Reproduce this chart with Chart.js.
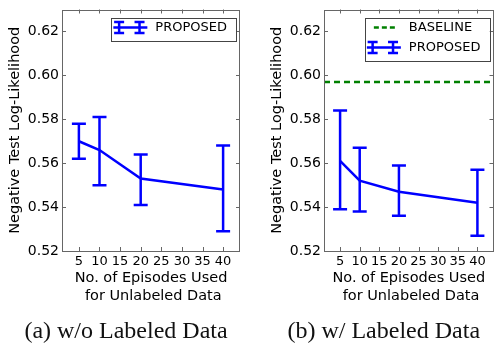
<!DOCTYPE html>
<html>
<head>
<meta charset="utf-8">
<script src="https://cdn.jsdelivr.net/npm/chart.js@4.4.1/dist/chart.umd.min.js"></script>
<style>
  html, body { margin: 0; padding: 0; background: #fff; }
  #wrap { position: relative; width: 503px; height: 348px; overflow: hidden; }
  canvas { position: absolute; top: 0; }
  #chartA { left: 0; }
  #chartB { left: 250px; }
</style>
</head>
<body>
<div id="wrap">
  <canvas id="chartA" width="250" height="348"></canvas>
  <canvas id="chartB" width="253" height="348"></canvas>
</div>
<script>
const episodes = [5, 10, 20, 40];
const xTicks = [5, 10, 15, 20, 25, 30, 35, 40];
const yTicks = [0.52, 0.54, 0.56, 0.58, 0.60, 0.62];

// (a) without labeled data
const nllNoLabel = [0.570, 0.566, 0.553, 0.548];
const nllNoLabelLow = [0.562, 0.550, 0.541, 0.529];
const nllNoLabelHigh = [0.578, 0.581, 0.564, 0.568];

// (b) with labeled data
const nllLabel = [0.561, 0.552, 0.547, 0.542];
const nllLabelLow = [0.539, 0.538, 0.536, 0.527];
const nllLabelHigh = [0.584, 0.567, 0.559, 0.557];
const baselineNll = 0.597;

const xMin = 0.9;
const xMax = 44.1;
const yMin = 0.52;
const yMax = 0.63;

const blue = "#0000ff";
const green = "#008000";
const frameColor = "#666666";
const sans = "DejaVu Sans";

const panelPlugin = {
  id: "panelDecor",
  afterDatasetsDraw(chart, args, opts) {
    const { ctx, chartArea: a, scales } = chart;
    ctx.save();
    // frame + inward ticks on all four sides
    ctx.strokeStyle = frameColor;
    ctx.lineWidth = 1;
    ctx.strokeRect(Math.round(a.left) + 0.5, Math.round(a.top) + 0.5,
      Math.round(a.right - a.left) - 1, Math.round(a.bottom - a.top) - 1);
    ctx.beginPath();
    xTicks.forEach((v) => {
      const x = Math.round(scales.x.getPixelForValue(v)) + 0.5;
      ctx.moveTo(x, a.bottom); ctx.lineTo(x, a.bottom - 4);
      ctx.moveTo(x, a.top); ctx.lineTo(x, a.top + 4);
    });
    yTicks.forEach((v) => {
      const y = Math.round(scales.y.getPixelForValue(v)) + 0.5;
      ctx.moveTo(a.left, y); ctx.lineTo(a.left + 4, y);
      ctx.moveTo(a.right, y); ctx.lineTo(a.right - 4, y);
    });
    ctx.stroke();

    // legend
    ctx.font = "13px " + sans;
    const textW = Math.max(...opts.legend.map((e) => ctx.measureText(e.label).width));
    const boxRight = a.right - 4;
    const textX = boxRight - 9 - textW;
    const boxLeft = textX - 44;
    const top = a.top + 8;
    const bottom = top + 10 + (opts.legend.length - 1) * 20 + 13;
    ctx.fillStyle = "#fff";
    ctx.fillRect(boxLeft, top, boxRight - boxLeft, bottom - top);
    ctx.strokeStyle = "#444";
    ctx.strokeRect(Math.round(boxLeft) + 0.5, Math.round(top) + 0.5,
      Math.round(boxRight - boxLeft), Math.round(bottom - top));
    opts.legend.forEach((e, i) => {
      const y = top + 10 + i * 20;
      const x0 = boxLeft + 2;
      const x1 = textX - 8;
      ctx.lineWidth = 2.5;
      if (e.kind === "dash") {
        ctx.strokeStyle = green;
        ctx.setLineDash([5, 3]);
        ctx.beginPath();
        ctx.moveTo(x0 + 7, y); ctx.lineTo(x0 + 28, y);
        ctx.stroke();
        ctx.setLineDash([]);
      } else {
        ctx.strokeStyle = blue;
        ctx.beginPath();
        ctx.moveTo(x0, y); ctx.lineTo(x1, y);
        [0.17, 0.77].forEach((f) => {
          const bx = x0 + (x1 - x0) * f;
          ctx.moveTo(bx, y - 5.5); ctx.lineTo(bx, y + 5.5);
          ctx.moveTo(bx - 5, y - 5.5); ctx.lineTo(bx + 5, y - 5.5);
          ctx.moveTo(bx - 5, y + 5.5); ctx.lineTo(bx + 5, y + 5.5);
        });
        ctx.stroke();
      }
      ctx.fillStyle = "#000";
      ctx.textBaseline = "middle";
      ctx.textAlign = "left";
      ctx.fillText(e.label, textX, y + 0.5);
    });

    // caption below the panel
    ctx.font = "24px 'Liberation Serif'";
    ctx.fillStyle = "#111";
    ctx.textAlign = "center";
    ctx.textBaseline = "middle";
    ctx.fillText(opts.caption, (a.left + a.right) / 2 - 25, 332);
    ctx.restore();
  }
};

function errorBarSets(low, high) {
  return episodes.map((x, i) => ({
    data: [{ x, y: low[i] }, { x, y: high[i] }],
    showLine: true,
    borderColor: blue,
    borderWidth: 2.5,
    pointStyle: "line",
    pointRadius: 7,
    pointBorderWidth: 2.5,
    pointBorderColor: blue,
    pointHoverRadius: 7
  }));
}

function noScalePadding(s) {
  s.paddingTop = 0;
  s.paddingBottom = 0;
  s.paddingLeft = 0;
  s.paddingRight = 0;
}

function makePanel(id, means, low, high, baseline, legend, caption, padLeft, padRight) {
  const datasets = [];
  if (baseline !== null) {
    datasets.push({
      data: [{ x: xMin, y: baseline }, { x: xMax, y: baseline }],
      showLine: true,
      borderColor: green,
      borderWidth: 2.5,
      borderDash: [6, 4],
      pointRadius: 0
    });
  }
  datasets.push({
    data: episodes.map((x, i) => ({ x, y: means[i] })),
    showLine: true,
    borderColor: blue,
    borderWidth: 2.5,
    pointRadius: 0,
    tension: 0
  });
  datasets.push(...errorBarSets(low, high));

  new Chart(document.getElementById(id), {
    type: "scatter",
    plugins: [panelPlugin],
    data: { datasets },
    options: {
      responsive: false,
      animation: false,
      devicePixelRatio: 1,
      layout: { padding: { top: 5, left: padLeft, right: padRight, bottom: 43 } },
      plugins: {
        legend: { display: false },
        tooltip: { enabled: false },
        panelDecor: { legend, caption }
      },
      scales: {
        x: {
          type: "linear",
          min: xMin,
          max: xMax,
          afterBuildTicks: (s) => { s.ticks = xTicks.map((v) => ({ value: v })); },
          afterFit: (s) => { s.height = 54; noScalePadding(s); },
          grid: { display: false, drawTicks: false },
          border: { display: false },
          ticks: { autoSkip: false, maxRotation: 0, padding: 3, color: "#000", font: { family: sans, size: 13 } },
          title: {
            display: true,
            text: ["No. of Episodes Used", " for Unlabeled Data"],
            color: "#000",
            font: { family: sans, size: 14.5, lineHeight: 18 / 14.5 },
            padding: { top: 0, bottom: 0 }
          }
        },
        y: {
          min: yMin,
          max: yMax,
          afterBuildTicks: (s) => { s.ticks = yTicks.map((v) => ({ value: v })); },
          afterFit: (s) => { s.width = 62; noScalePadding(s); },
          grid: { display: false, drawTicks: false },
          border: { display: false },
          ticks: {
            padding: 3,
            color: "#000",
            font: { family: sans, size: 14 },
            callback: (v) => Number(v).toFixed(2)
          },
          title: {
            display: true,
            text: "Negative Test Log-Likelihood",
            color: "#000",
            font: { family: sans, size: 14.5, lineHeight: 18 / 14.5 },
            padding: { top: 6.5, bottom: 0 }
          }
        }
      }
    }
  });
}

makePanel("chartA", nllNoLabel, nllNoLabelLow, nllNoLabelHigh, null,
  [{ kind: "err", label: "PROPOSED" }], "(a) w/o Labeled Data", 0, 10);
makePanel("chartB", nllLabel, nllLabelLow, nllLabelHigh, baselineNll,
  [{ kind: "dash", label: "BASELINE" }, { kind: "err", label: "PROPOSED" }], "(b) w/ Labeled Data", 12, 1);
</script>
</body>
</html>
